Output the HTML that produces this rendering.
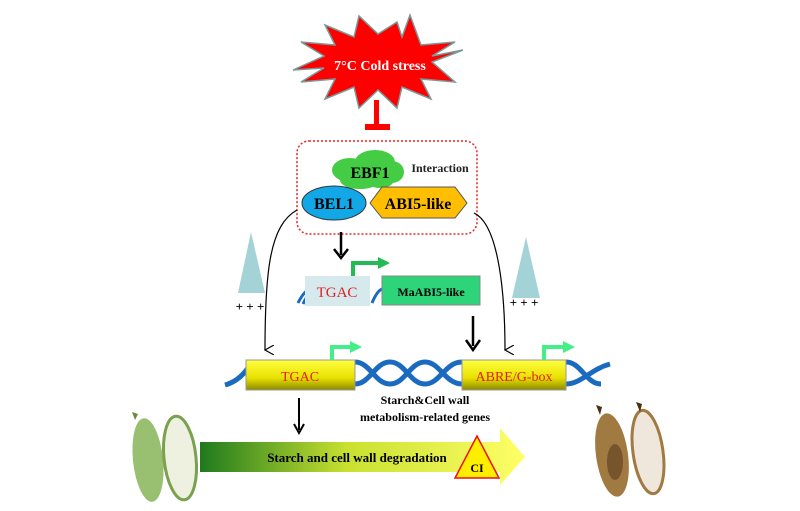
<!DOCTYPE html>
<html><head><meta charset="utf-8"><style>body{margin:0;background:#fff}svg{display:block}text{font-family:"Liberation Serif",serif}</style></head><body>
<svg width="800" height="511" viewBox="0 0 800 511">
<defs>
<linearGradient id="g" x1="0" x2="1"><stop offset="0" stop-color="#1e7a1e"/><stop offset="0.45" stop-color="#c8e030"/><stop offset="1" stop-color="#ffff66"/></linearGradient>
<linearGradient id="y" x1="0" y1="0" x2="0" y2="1"><stop offset="0" stop-color="#ffff40"/><stop offset="0.6" stop-color="#e8e000"/><stop offset="1" stop-color="#8a8a00"/></linearGradient>
<marker id="oa" markerWidth="10" markerHeight="10" refX="5" refY="9" orient="auto" markerUnits="userSpaceOnUse"><path d="M0,0 L5,9 L10,0" fill="none" stroke="#000" stroke-width="1.2"/></marker>
</defs>
<!-- starburst -->
<polygon points="463,50 432,62 455,82 421,79 431,99 402,87 397,108 378,90 359,108 354,87 325,99 335,79 301,82 324,68 293,70 324,56 301,42 335,45 325,25 354,37 359,16 378,34 397,22 402,37 410,15 421,45 455,42 432,56" fill="#ff0000" stroke="#7a9a9a" stroke-width="1.5"/>
<text x="380" y="70" font-size="14" font-weight="bold" fill="#fff" text-anchor="middle">7°C Cold stress</text>
<rect x="374" y="100" width="5" height="27" fill="#ff0000"/><rect x="365" y="124" width="25" height="6" fill="#ff0000"/>
<!-- dotted box -->
<rect x="297" y="141" width="180" height="93" rx="12" fill="none" stroke="#ee2222" stroke-width="1.5" stroke-dasharray="2,2"/>
<g fill="#44cc44"><ellipse cx="350" cy="170" rx="18" ry="12"/><ellipse cx="375" cy="162" rx="20" ry="12"/><ellipse cx="392" cy="172" rx="12" ry="11"/><ellipse cx="360" cy="180" rx="20" ry="9"/><ellipse cx="380" cy="180" rx="14" ry="8"/></g>
<text x="370" y="178" font-size="16" font-weight="bold" text-anchor="middle">EBF1</text>
<text x="440" y="172" font-size="12" font-weight="bold" text-anchor="middle" fill="#222">Interaction</text>
<ellipse cx="334" cy="203" rx="32" ry="17" fill="#12a8e8" stroke="#333" stroke-width="1"/>
<text x="334" y="209" font-size="16" font-weight="bold" text-anchor="middle">BEL1</text>
<polygon points="370,203 382,187 455,187 467,203 455,218 382,218" fill="#ffbf00" stroke="#555" stroke-width="1"/>
<text x="418" y="209" font-size="16" font-weight="bold" text-anchor="middle">ABI5-like</text>
<!-- middle -->
<line x1="341" y1="232" x2="341" y2="255" stroke="#000" stroke-width="2.5"/><path d="M334,249 L341,258 L348,249" fill="none" stroke="#000" stroke-width="2.5"/>
<path d="M353,276 V263 H380" fill="none" stroke="#22bb55" stroke-width="4"/><polygon points="378,257 390,263 378,269" fill="#22bb55"/>
<path d="M298,303 q6,-12 12,-14 M303,304 q6,-12 10,-14 M372,303 q5,-12 10,-14" stroke="#1a6ac0" stroke-width="3" fill="none"/>
<rect x="305" y="276" width="65" height="30" fill="#d6eaee"/>
<text x="337" y="297" font-size="15" fill="#e02020" text-anchor="middle">TGAC</text>
<rect x="382" y="276" width="98" height="29" fill="#2ed47a" stroke="#888"/>
<text x="431" y="296" font-size="12" font-weight="bold" text-anchor="middle">MaABI5-like</text>
<!-- triangles -->
<polygon points="251,232 238,293 265,293" fill="#a3d3d6"/>
<polygon points="526,237 512,298 540,298" fill="#a3d3d6"/>
<text x="250" y="311" font-size="13" font-weight="bold" text-anchor="middle">+ + +</text>
<text x="524" y="307" font-size="13" font-weight="bold" text-anchor="middle">+ + +</text>
<!-- curves -->
<path d="M297,210 C270,225 265,270 265,350" fill="none" stroke="#000" stroke-width="1.2" marker-end="url(#oa)"/>
<path d="M474,213 C500,225 505,300 505,350" fill="none" stroke="#000" stroke-width="1.2" marker-end="url(#oa)"/>
<line x1="473" y1="316" x2="473" y2="346" stroke="#000" stroke-width="2.5"/><path d="M466,340 L473,350 L480,340" fill="none" stroke="#000" stroke-width="2.5"/>
<!-- bottom DNA -->
<g stroke="#1a6ac0" stroke-width="5" fill="none">
<path d="M225,385 q15,-4 25,-20"/>
<path d="M355,362 c15,0 20,22 35,22 c15,0 20,-22 35,-22 c15,0 20,22 37,22"/>
<path d="M355,384 c15,0 20,-22 35,-22 c15,0 20,22 35,22 c15,0 20,-22 37,-22"/>
<path d="M566,362 c15,0 20,22 35,22 M566,384 c15,0 25,-15 44,-20"/>
</g>
<rect x="246" y="360" width="109" height="30" fill="url(#y)" stroke="#999"/>
<text x="300" y="381" font-size="14" fill="#e02020" text-anchor="middle">TGAC</text>
<rect x="462" y="360" width="104" height="30" fill="url(#y)" stroke="#999"/>
<text x="514" y="381" font-size="14" fill="#e02020" text-anchor="middle">ABRE/G-box</text>
<path d="M332,360 V347 H352" fill="none" stroke="#44ee88" stroke-width="4"/><polygon points="350,341 362,347 350,353" fill="#44ee88"/>
<path d="M544,360 V347 H565" fill="none" stroke="#44ee88" stroke-width="4"/><polygon points="563,341 575,347 563,353" fill="#44ee88"/>
<text x="425" y="404" font-size="12" font-weight="bold" text-anchor="middle">Starch&amp;Cell wall</text>
<text x="425" y="421" font-size="12" font-weight="bold" text-anchor="middle">metabolism-related genes</text>
<line x1="299" y1="398" x2="299" y2="430" stroke="#000" stroke-width="2"/><path d="M294,424 L299,433 L304,424" fill="none" stroke="#000" stroke-width="2"/>
<!-- big arrow -->
<polygon points="200,442 500,442 500,428 525,457 500,485 500,472 200,472" fill="url(#g)"/>
<text x="357" y="462" font-size="13" font-weight="bold" text-anchor="middle">Starch and cell wall degradation</text>
<polygon points="477,436 455,478 499,478" fill="#ffee00" stroke="#ee1111" stroke-width="1.5"/>
<text x="477" y="472" font-size="12" font-weight="bold" text-anchor="middle" font-family="Liberation Sans">CI</text>
<!-- bananas -->
<ellipse cx="148" cy="460" rx="15" ry="42" fill="#98c070" transform="rotate(-6 148 460)"/>
<path d="M135,420 l-3,-8 l6,2z" fill="#6a8a40"/>
<ellipse cx="180" cy="458" rx="16" ry="42" fill="#eef0e0" stroke="#7aa050" stroke-width="3" transform="rotate(-6 180 458)"/>
<ellipse cx="612" cy="455" rx="16" ry="42" fill="#a07a40" transform="rotate(-8 612 455)"/>
<ellipse cx="615" cy="462" rx="8" ry="18" fill="#5a3a20" opacity="0.6"/>
<ellipse cx="648" cy="452" rx="15" ry="42" fill="#efe7dc" stroke="#a07a40" stroke-width="3" transform="rotate(-8 648 452)"/>
<path d="M600,415 l-4,-10 l6,2z M640,412 l-4,-10 l6,2z" fill="#4a3010"/>
</svg>
</body></html>
